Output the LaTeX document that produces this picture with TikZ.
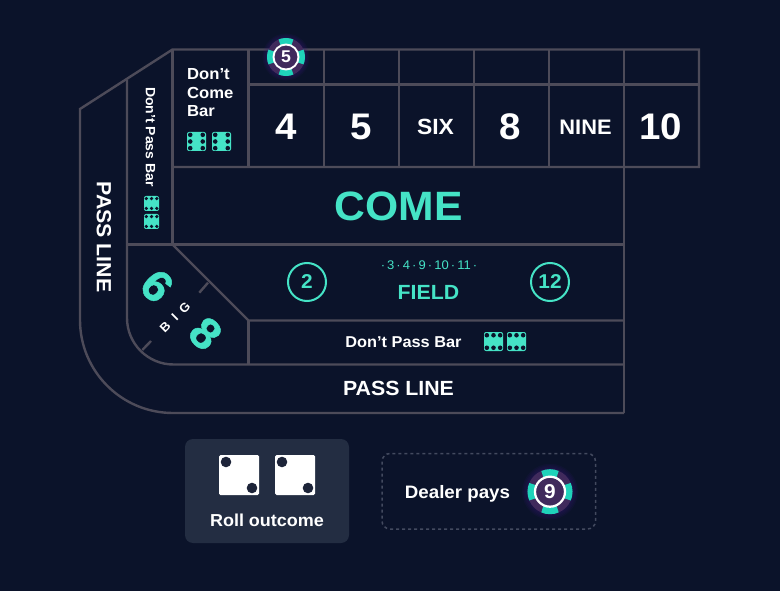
\documentclass[tikz,border=0pt]{standalone}
\usepackage{fontspec}
\setmainfont[FakeStretch=1.04]{Liberation Sans}
\definecolor{bgc}{HTML}{0B132A}
\definecolor{linec}{HTML}{4D4B59}
\definecolor{dashc}{HTML}{434A5F}
\definecolor{tealc}{HTML}{45E3C6}
\definecolor{chipc}{HTML}{402A5C}
\definecolor{chipteal}{HTML}{1FD3BA}
\definecolor{panelc}{HTML}{232D42}
\definecolor{dotc}{HTML}{1D2439}
\definecolor{glowc}{HTML}{3A1A7A}
\tikzset{
  felt/.style={draw=linec,line width=2.4pt,line join=miter},
  wtxt/.style={text=white,font=\bfseries,inner sep=0pt},
  ttxt/.style={text=tealc,font=\bfseries,inner sep=0pt},
  ringc/.style={draw=tealc,line width=2pt,circle,minimum size=38pt,inner sep=0pt,text=tealc,font=\fontsize{20}{20}\selectfont\bfseries},
}
\newcommand{\sixdie}[3]{%
  \fill[tealc,rounded corners=2pt] ({#1-#3/2},{#2-#3/2}) rectangle ({#1+#3/2},{#2+#3/2});
  \foreach \dx in {-0.33,0.33}\foreach \dy in {-0.35,0,0.35}
    \fill[bgc] ({#1+\dx*#3},{#2+\dy*#3}) circle[radius=0.12*#3];}
\newcommand{\sixdieh}[3]{%
  \fill[tealc,rounded corners=2pt] ({#1-#3/2},{#2-#3/2}) rectangle ({#1+#3/2},{#2+#3/2});
  \foreach \dx in {-0.35,0,0.35}\foreach \dy in {-0.33,0.33}
    \fill[bgc] ({#1+\dx*#3},{#2+\dy*#3}) circle[radius=0.12*#3];}
\newcommand{\chipnode}[7]{%
  \foreach \k in {1.06,1.12,1.18,1.24}
    \fill[glowc,opacity=0.10] (#2,#3) circle[radius=\k*#4];
  \fill[chipc] (#2,#3) circle[radius=#4];
  \foreach \a in {0,90,180,270}
    \draw[chipteal,line width={0.40*#4}] ({#2+0.80*#4*cos(\a-24)},{#3+0.80*#4*sin(\a-24)}) arc[start angle=\a-24,end angle=\a+24,radius=0.80*#4];
  \fill[chipc] (#2,#3) circle[radius=#5];
  \draw[white,line width={0.10*#4}] (#2,#3) circle[radius=#5];
  \node[text=white,inner sep=0pt,font=\fontsize{#7}{#7}\selectfont\bfseries] (#1) at (#2,#3) {#6};}
\begin{document}
\begin{tikzpicture}[x=1pt,y=-1pt]
\useasboundingbox (0,0) rectangle (780,591);
\fill[bgc] (0,0) rectangle (780,591);
\draw[felt] (624,413) -- (173,413) arc[start angle=90,end angle=180,radius=93] -- (80,109) -- (172.5,49.5) -- (699,49.5) -- (699,167) -- (172.5,167);
\draw[felt] (624,49.5) -- (624,413);
\draw[felt] (127,80) -- (127,318) arc[start angle=180,end angle=90,radius=46.5] -- (624,364.5);
\draw[felt] (172.5,49.5) -- (172.5,244.5);
\draw[felt] (127,244.5) -- (624,244.5);
\draw[felt] (172.5,244.5) -- (248.5,320.5) -- (624,320.5);
\draw[felt] (248.5,320.5) -- (248.5,364.5);
\draw[felt] (248.5,49.5) -- (248.5,167);
\draw[felt] (248.5,84.5) -- (699,84.5);
\foreach \vx in {324,399,474,549} \draw[felt] (\vx,49.5) -- (\vx,167);
\draw[felt] (208,282.7) -- (199.3,292.7);
\draw[felt] (151,341) -- (142.3,350);
\node[wtxt,align=left,anchor=north west,font=\fontsize{16}{18.3}\selectfont\bfseries] (dcb) at (187,68.5) {Don’t\\Come\\Bar};
\sixdie{196.5}{141.5}{19}
\sixdie{221.5}{141.5}{19}
\node[wtxt,rotate=-90,font=\fontsize{13.5}{14}\selectfont\bfseries] (dpbv) at (150.5,137) {Don’t Pass Bar};
\sixdieh{151.5}{203.5}{15}
\sixdieh{151.5}{221.5}{15}
\node[wtxt,rotate=-90,font=\fontsize{20.5}{22}\selectfont\bfseries] (plv) at (104,237) {PASS LINE};
\foreach \nm/\tx/\lab in {n4/286/4,n5/361/5,n8/510/8,n10/660.5/10}
  \node[wtxt,font=\fontsize{37}{37}\selectfont\bfseries] (\nm) at (\tx,127) {\lab};
\node[wtxt,font=\fontsize{22}{22}\selectfont\bfseries] (six) at (435.5,127) {SIX};
\node[wtxt,font=\fontsize{21}{21}\selectfont\bfseries] (nine) at (585.5,127) {NINE};
\node[ttxt,font=\fontsize{41}{41}\selectfont\bfseries] (come) at (398.5,206) {COME};
\node[ringc] (two) at (307,282) {2};
\node[ringc] (twelve) at (550,282) {12};
\node[ttxt,font=\fontsize{12.5}{12}\selectfont] (nums) at (429,265) {·\,3\,·\,4\,·\,9\,·\,10\,·\,11\,·};
\node[ttxt,font=\fontsize{20.5}{22}\selectfont\bfseries] (field) at (428.5,292.5) {FIELD};
\node[wtxt,font=\fontsize{15.7}{16}\selectfont\bfseries] (dpbh) at (403.5,342) {Don’t Pass Bar};
\sixdieh{493.5}{341.5}{19}
\sixdieh{516.5}{341.5}{19}
\node[wtxt,font=\fontsize{20.5}{22}\selectfont\bfseries] (plh) at (398.5,388.5) {PASS LINE};
\node[ttxt,rotate=-45,font=\fontsize{44}{44}\selectfont\addfontfeature{FakeBold=1}\bfseries] (bsix) at (157,286) {6};
\node[ttxt,rotate=-45,font=\fontsize{44}{44}\selectfont\addfontfeature{FakeBold=1}\bfseries] (beight) at (205.5,333.5) {8};
\node[wtxt,rotate=45,font=\fontsize{12.5}{13}\selectfont\bfseries] (big) at (175,317) {B\hspace{7pt}I\hspace{7pt}G};
\chipnode{chipa}{286}{57}{19}{12.5}{5}{17}
\chipnode{chipb}{550}{491.7}{22.5}{15}{9}{20}
\node[fill=panelc,rounded corners=8pt,minimum width=164pt,minimum height=104pt,inner sep=0pt] (roll) at (267,491) {};
\foreach \nm/\dx in {dia/219,dib/275}{
  \fill[white,rounded corners=1.5pt] (\dx,455) rectangle ({\dx+40},495);
  \fill[dotc] ({\dx+7},462) circle[radius=5.3];
  \fill[dotc] ({\dx+33},488) circle[radius=5.3];
}
\node[text=white,inner sep=0pt,font=\fontsize{17.3}{17}\selectfont\bfseries,anchor=base] (rolltxt) at (267,526) {Roll outcome};
\draw[draw=dashc,line width=1.5pt,dash pattern=on 3pt off 3pt,rounded corners=8pt] (382,453.5) rectangle (595.5,529);
\node[text=white,inner sep=0pt,font=\fontsize{18}{18}\selectfont\bfseries,anchor=base] (dealer) at (457.5,498) {Dealer pays};
\end{tikzpicture}
\end{document}
